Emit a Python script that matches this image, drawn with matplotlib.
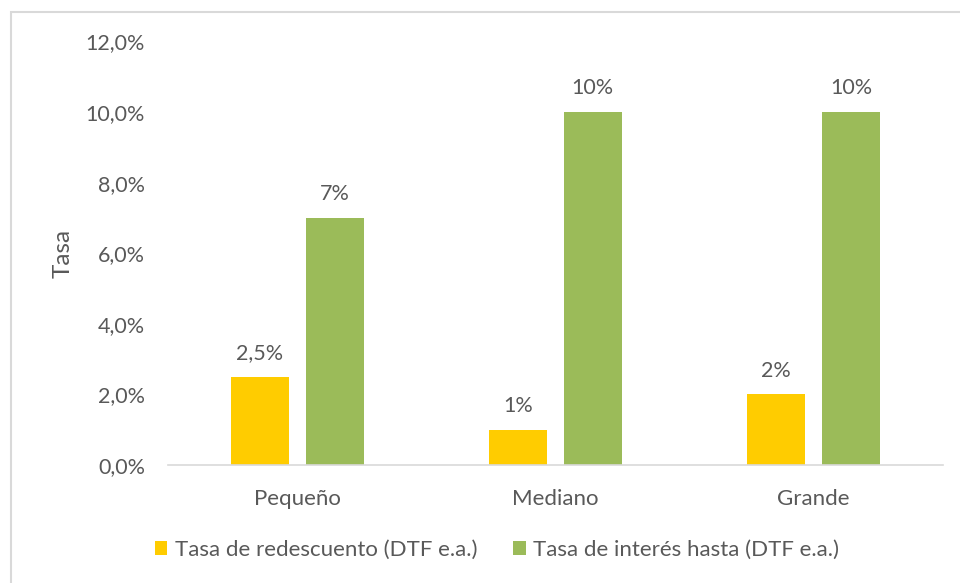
import matplotlib.pyplot as plt
from matplotlib.patches import Rectangle
import numpy as np

# data
categorias = ["Pequeño", "Mediano", "Grande"]
redescuento = [0.025, 0.01, 0.02]
interes = [0.07, 0.10, 0.10]
etiq_redescuento = ["2,5%", "1%", "2%"]
etiq_interes = ["7%", "10%", "10%"]
y_ticks = [0.0, 0.02, 0.04, 0.06, 0.08, 0.10, 0.12]
y_tick_labels = ["0,0%", "2,0%", "4,0%", "6,0%", "8,0%", "10,0%", "12,0%"]

plt.rcParams['font.family'] = ['Lato', 'DejaVu Sans']
gris = '#595959'

fig = plt.figure(figsize=(9.6, 5.83), dpi=100)
ax = fig.add_axes([0.175, 0.2024, 0.807, 0.7266])

x = np.arange(len(categorias))
w = 0.225
off = 0.145
b1 = ax.bar(x - off, redescuento, w, color='#FFCC00', label='Tasa de redescuento (DTF e.a.)')
b2 = ax.bar(x + off, interes, w, color='#9BBB59', label='Tasa de interés hasta (DTF e.a.)')

for bars, labs in [(b1, etiq_redescuento), (b2, etiq_interes)]:
    for r, t in zip(bars, labs):
        ax.annotate(t, (r.get_x() + r.get_width() / 2, r.get_height()),
                    xytext=(0, 10), textcoords='offset points',
                    ha='center', va='bottom', fontsize=15.5, color=gris)

ax.set_xlim(-0.5, 2.5)
ax.set_ylim(0, 0.12)
ax.set_xticks(x)
ax.set_xticklabels(categorias, fontsize=16, color=gris)
ax.set_yticks(y_ticks)
ax.set_yticklabels(y_tick_labels, fontsize=15.5, color=gris)
ax.tick_params(length=0)
ax.tick_params(axis='x', pad=17)
ax.tick_params(axis='y', pad=16.5)
ax.set_ylabel('Tasa', fontsize=17.5, color=gris, labelpad=9)

for s in ['top', 'right', 'left']:
    ax.spines[s].set_visible(False)
ax.spines['bottom'].set_color('#D9D9D9')
ax.spines['bottom'].set_linewidth(1.2)

leg = fig.legend(loc='center', bbox_to_anchor=(0.518, 0.057), ncol=2, frameon=False,
                 fontsize=16, handlelength=0.55, handleheight=0.55, handletextpad=0.35,
                 columnspacing=1.6)
for t in leg.get_texts():
    t.set_color(gris)

# chart frame
fig.patches.append(Rectangle((11 / 960, -0.05), 1.0, 1 - 12 / 583 + 0.05,
                             transform=fig.transFigure, fill=False,
                             edgecolor='#D9D9D9', linewidth=1.5))

fig.savefig('out.png', dpi=100)
